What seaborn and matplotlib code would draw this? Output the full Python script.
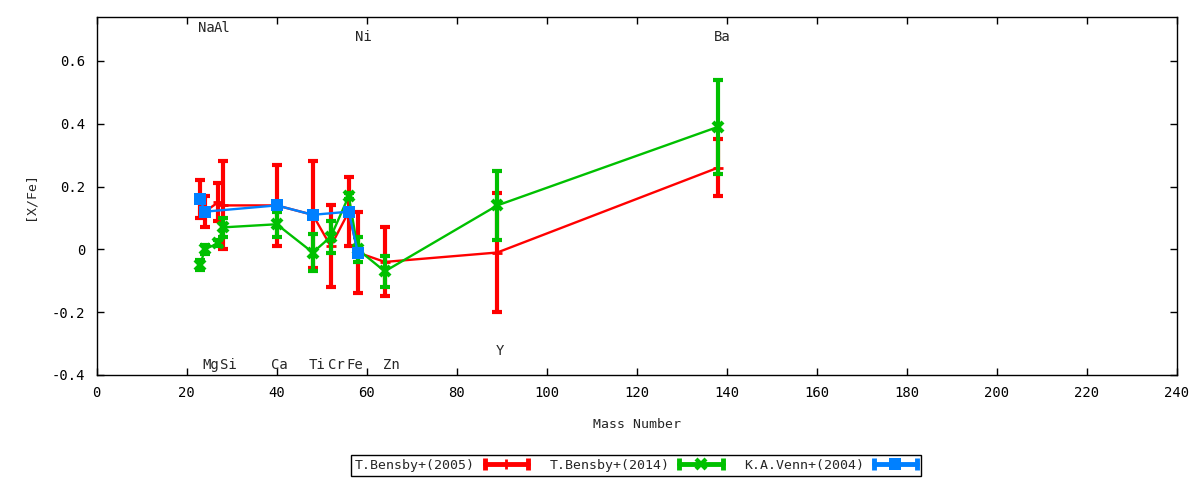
import numpy as np
import pandas as pd
import matplotlib
matplotlib.use('Agg')
import matplotlib.pyplot as plt
import seaborn as sns
from matplotlib.lines import Line2D
from matplotlib.legend_handler import HandlerBase

# [X/Fe] vs mass number, three literature sources
MASS_05 = [23, 24, 27, 28, 40, 48, 52, 56, 58, 64, 89, 138]
XFE_05 = [0.16, 0.12, 0.15, 0.14, 0.14, 0.11, 0.01, 0.12, -0.01, -0.04, -0.01, 0.26]
ERR_05 = [0.06, 0.05, 0.06, 0.14, 0.13, 0.17, 0.13, 0.11, 0.13, 0.11, 0.19, 0.09]

MASS_14 = [23, 24, 27, 28, 40, 48, 52, 56, 58, 64, 89, 138]
XFE_14 = [-0.05, 0.00, 0.02, 0.07, 0.08, -0.01, 0.04, 0.17, 0.00, -0.07, 0.14, 0.39]
ERR_14 = [0.015, 0.015, 0.01, 0.03, 0.04, 0.06, 0.05, 0.01, 0.04, 0.05, 0.11, 0.15]

MASS_04 = [23, 24, 40, 48, 56, 58]
XFE_04 = [0.16, 0.12, 0.14, 0.11, 0.12, -0.01]
ERR_04 = [0.01, 0.01, 0.01, 0.01, 0.01, 0.01]

SOURCES = ['T.Bensby+(2005)', 'T.Bensby+(2014)', 'K.A.Venn+(2004)']

# element labels (text, x, y)
TOP_LABELS = [('Na', 22.4, 0.706), ('Al', 26.1, 0.706), ('Ni', 57.4, 0.675), ('Ba', 137.2, 0.675)]
BOTTOM_LABELS = [('Mg', 23.5, -0.367), ('Si', 27.5, -0.367), ('Ca', 38.8, -0.367),
                 ('Ti', 47.1, -0.367), ('Cr', 51.3, -0.367), ('Fe', 55.4, -0.367),
                 ('Zn', 63.5, -0.367), ('Y', 88.7, -0.323)]

STYLE = {
    'T.Bensby+(2005)': dict(color='#ff0000', marker='+', ms=7, mew=2),
    'T.Bensby+(2014)': dict(color='#00c000', marker='x', ms=7, mew=3),
    'K.A.Venn+(2004)': dict(color='#0080ff', marker='s', ms=8, mew=0),
}


class ErrLineHandler(HandlerBase):
    # gnuplot-like key sample: thick bar with caps at both ends and the point in the middle
    def create_artists(self, legend, orig_handle, xdescent, ydescent, width, height, fontsize, trans):
        c = orig_handle.get_color()
        y = height / 2 - ydescent
        x0, x1 = -xdescent, width - xdescent
        bar = Line2D([x0, x1], [y, y], color=c, lw=3.5)
        caps = Line2D([x0, x1], [y, y], color=c, ls='none', marker='|', ms=9, mew=3.5)
        mid = Line2D([(x0 + x1) / 2], [y], color=c, ls='none', marker=orig_handle.get_marker(),
                     ms=orig_handle.get_markersize(), mew=orig_handle.get_markeredgewidth())
        for a in (bar, caps, mid):
            a.set_transform(trans)
        return [bar, caps, mid]


def main():
    sns.set_theme(style='ticks')
    plt.rcParams['font.family'] = ['DejaVu Sans Mono', 'DejaVu Sans']
    plt.rcParams['font.size'] = 9.5

    df = pd.concat([
        pd.DataFrame({'mass': MASS_05, 'xfe': XFE_05, 'err': ERR_05, 'source': SOURCES[0]}),
        pd.DataFrame({'mass': MASS_14, 'xfe': XFE_14, 'err': ERR_14, 'source': SOURCES[1]}),
        pd.DataFrame({'mass': MASS_04, 'xfe': XFE_04, 'err': ERR_04, 'source': SOURCES[2]}),
    ], ignore_index=True)

    fig = plt.figure(figsize=(12, 4.8), dpi=100)
    ax = fig.add_axes([0.0806, 0.2188, 0.9002, 0.7458])

    handles = []
    for i, src in enumerate(SOURCES):
        sub = df[df['source'] == src]
        st = STYLE[src]
        ax.errorbar(sub['mass'], sub['xfe'], yerr=sub['err'], fmt='none', ecolor=st['color'],
                    elinewidth=3, capsize=3.5, capthick=3, zorder=2 + i)
        sns.lineplot(data=sub, x='mass', y='xfe', color=st['color'], lw=1.7, marker=st['marker'],
                     ms=st['ms'], mew=st['mew'], mec=st['color'], estimator=None, sort=False,
                     zorder=2.5 + i, ax=ax)
        handles.append(Line2D([], [], color=st['color'], marker=st['marker'], ms=st['ms'],
                              mew=st['mew'], label=src))

    for txt, x, y in TOP_LABELS + BOTTOM_LABELS:
        ax.text(x, y, txt, ha='left', va='center', fontsize=10)

    ax.set_xlim(0, 240)
    ax.set_ylim(-0.4, 0.74)
    ax.set_xticks(np.arange(0, 241, 20))
    ax.set_yticks([-0.4, -0.2, 0, 0.2, 0.4, 0.6])
    ax.yaxis.set_major_formatter(lambda v, pos: f'{v:g}')
    ax.tick_params(direction='in', top=True, right=True, length=5, width=1, colors='black', labelsize=10)
    ax.tick_params(axis='x', pad=8)
    ax.tick_params(axis='y', pad=8)
    for sp in ax.spines.values():
        sp.set_linewidth(1)
        sp.set_color('black')
    ax.set_xlabel('Mass Number', fontsize=9.5, labelpad=13)
    ax.set_ylabel('[X/Fe]', fontsize=9.5, labelpad=11)

    fig.legend(handles=handles, loc='center', bbox_to_anchor=(0.53, 0.031), ncol=3,
               markerfirst=False, handler_map={Line2D: ErrLineHandler()}, fontsize=9.5,
               handlelength=3.3, handletextpad=0.75, columnspacing=1.6, borderpad=0.3,
               fancybox=False, framealpha=1, edgecolor='black')
    fig.legends[0].get_frame().set_linewidth(1)

    fig.savefig('out.png', dpi=100)
    plt.close(fig)


if __name__ == '__main__':
    main()
